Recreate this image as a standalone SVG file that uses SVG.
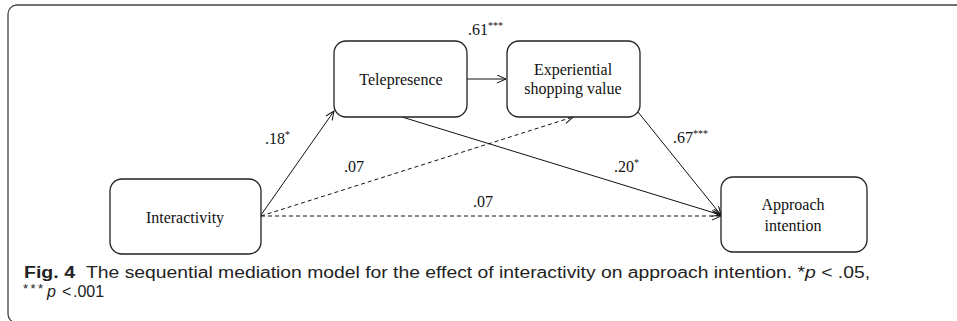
<svg xmlns="http://www.w3.org/2000/svg" width="957" height="321" viewBox="0 0 957 321">
<style>
.box{fill:#fff;stroke:#222;stroke-width:1.3}
.nt{font-family:"Liberation Serif","Times New Roman",serif;font-size:16px;fill:#111;text-anchor:middle}
.lb{font-family:"Liberation Serif","Times New Roman",serif;font-size:16px;fill:#111}
.sup{font-size:10px}
.c{fill:none;stroke:#111;stroke-width:1;marker-end:url(#ah)}
.d{stroke-dasharray:4 3}
.cap{font-family:"Liberation Sans",Arial,sans-serif;font-size:16px;fill:#222}
</style>
<defs>
<marker id="ah" markerUnits="userSpaceOnUse" markerWidth="12" markerHeight="10" refX="9" refY="4" orient="auto">
<path d="M0,0 L9,4 L0,8" fill="none" stroke="#111" stroke-width="1"/>
</marker>
</defs>
<rect x="8" y="5" width="965" height="318" rx="9" fill="none" stroke="#444" stroke-width="1.3"/>
<g id="connectors">
<line class="c" x1="261" y1="215" x2="334" y2="111"/>
<line class="c" x1="467" y1="79" x2="506" y2="79"/>
<line class="c d" x1="261" y1="216" x2="573" y2="117"/>
<line class="c d" x1="261" y1="216" x2="721" y2="216"/>
<line class="c" x1="402" y1="117" x2="721" y2="215"/>
<line class="c" x1="638" y1="112" x2="721" y2="215"/>
</g>
<g id="telepresence">
<rect class="box" x="334" y="41" width="133" height="76" rx="12"/>
<text class="nt" x="401" y="85">Telepresence</text>
</g>
<g id="experiential">
<rect class="box" x="507" y="41" width="133" height="76" rx="12"/>
<text class="nt" x="573" y="75">Experiential</text>
<text class="nt" x="573" y="94">shopping value</text>
</g>
<g id="interactivity">
<rect class="box" x="110" y="179" width="151" height="75" rx="12"/>
<text class="nt" x="185" y="223">Interactivity</text>
</g>
<g id="approach">
<rect class="box" x="721" y="177" width="146" height="75" rx="12"/>
<text class="nt" x="793" y="210">Approach</text>
<text class="nt" x="793" y="231">intention</text>
</g>
<g id="labels">
<text class="lb" x="468" y="35">.61<tspan class="sup" dy="-6">***</tspan></text>
<text class="lb" x="265" y="144">.18<tspan class="sup" dy="-6">*</tspan></text>
<text class="lb" x="344" y="172">.07</text>
<text class="lb" x="473" y="207">.07</text>
<text class="lb" x="614" y="172">.20<tspan class="sup" dy="-6">*</tspan></text>
<text class="lb" x="673" y="143">.67<tspan class="sup" dy="-6">***</tspan></text>
</g>
<g id="caption">
<text class="cap" x="24" y="278" font-weight="bold" textLength="51" lengthAdjust="spacingAndGlyphs">Fig. 4</text>
<text class="cap" x="86" y="278" textLength="784" lengthAdjust="spacingAndGlyphs">The sequential mediation model for the effect of interactivity on approach intention. *<tspan font-style="italic">p</tspan> &lt; .05,</text>
<text class="cap" x="23" y="297"><tspan font-size="13px" dy="-4" letter-spacing="2.5">***</tspan><tspan font-style="italic" x="47" dy="4">p</tspan><tspan x="62">&lt;</tspan><tspan x="73">.001</tspan></text>
</g>
</svg>
